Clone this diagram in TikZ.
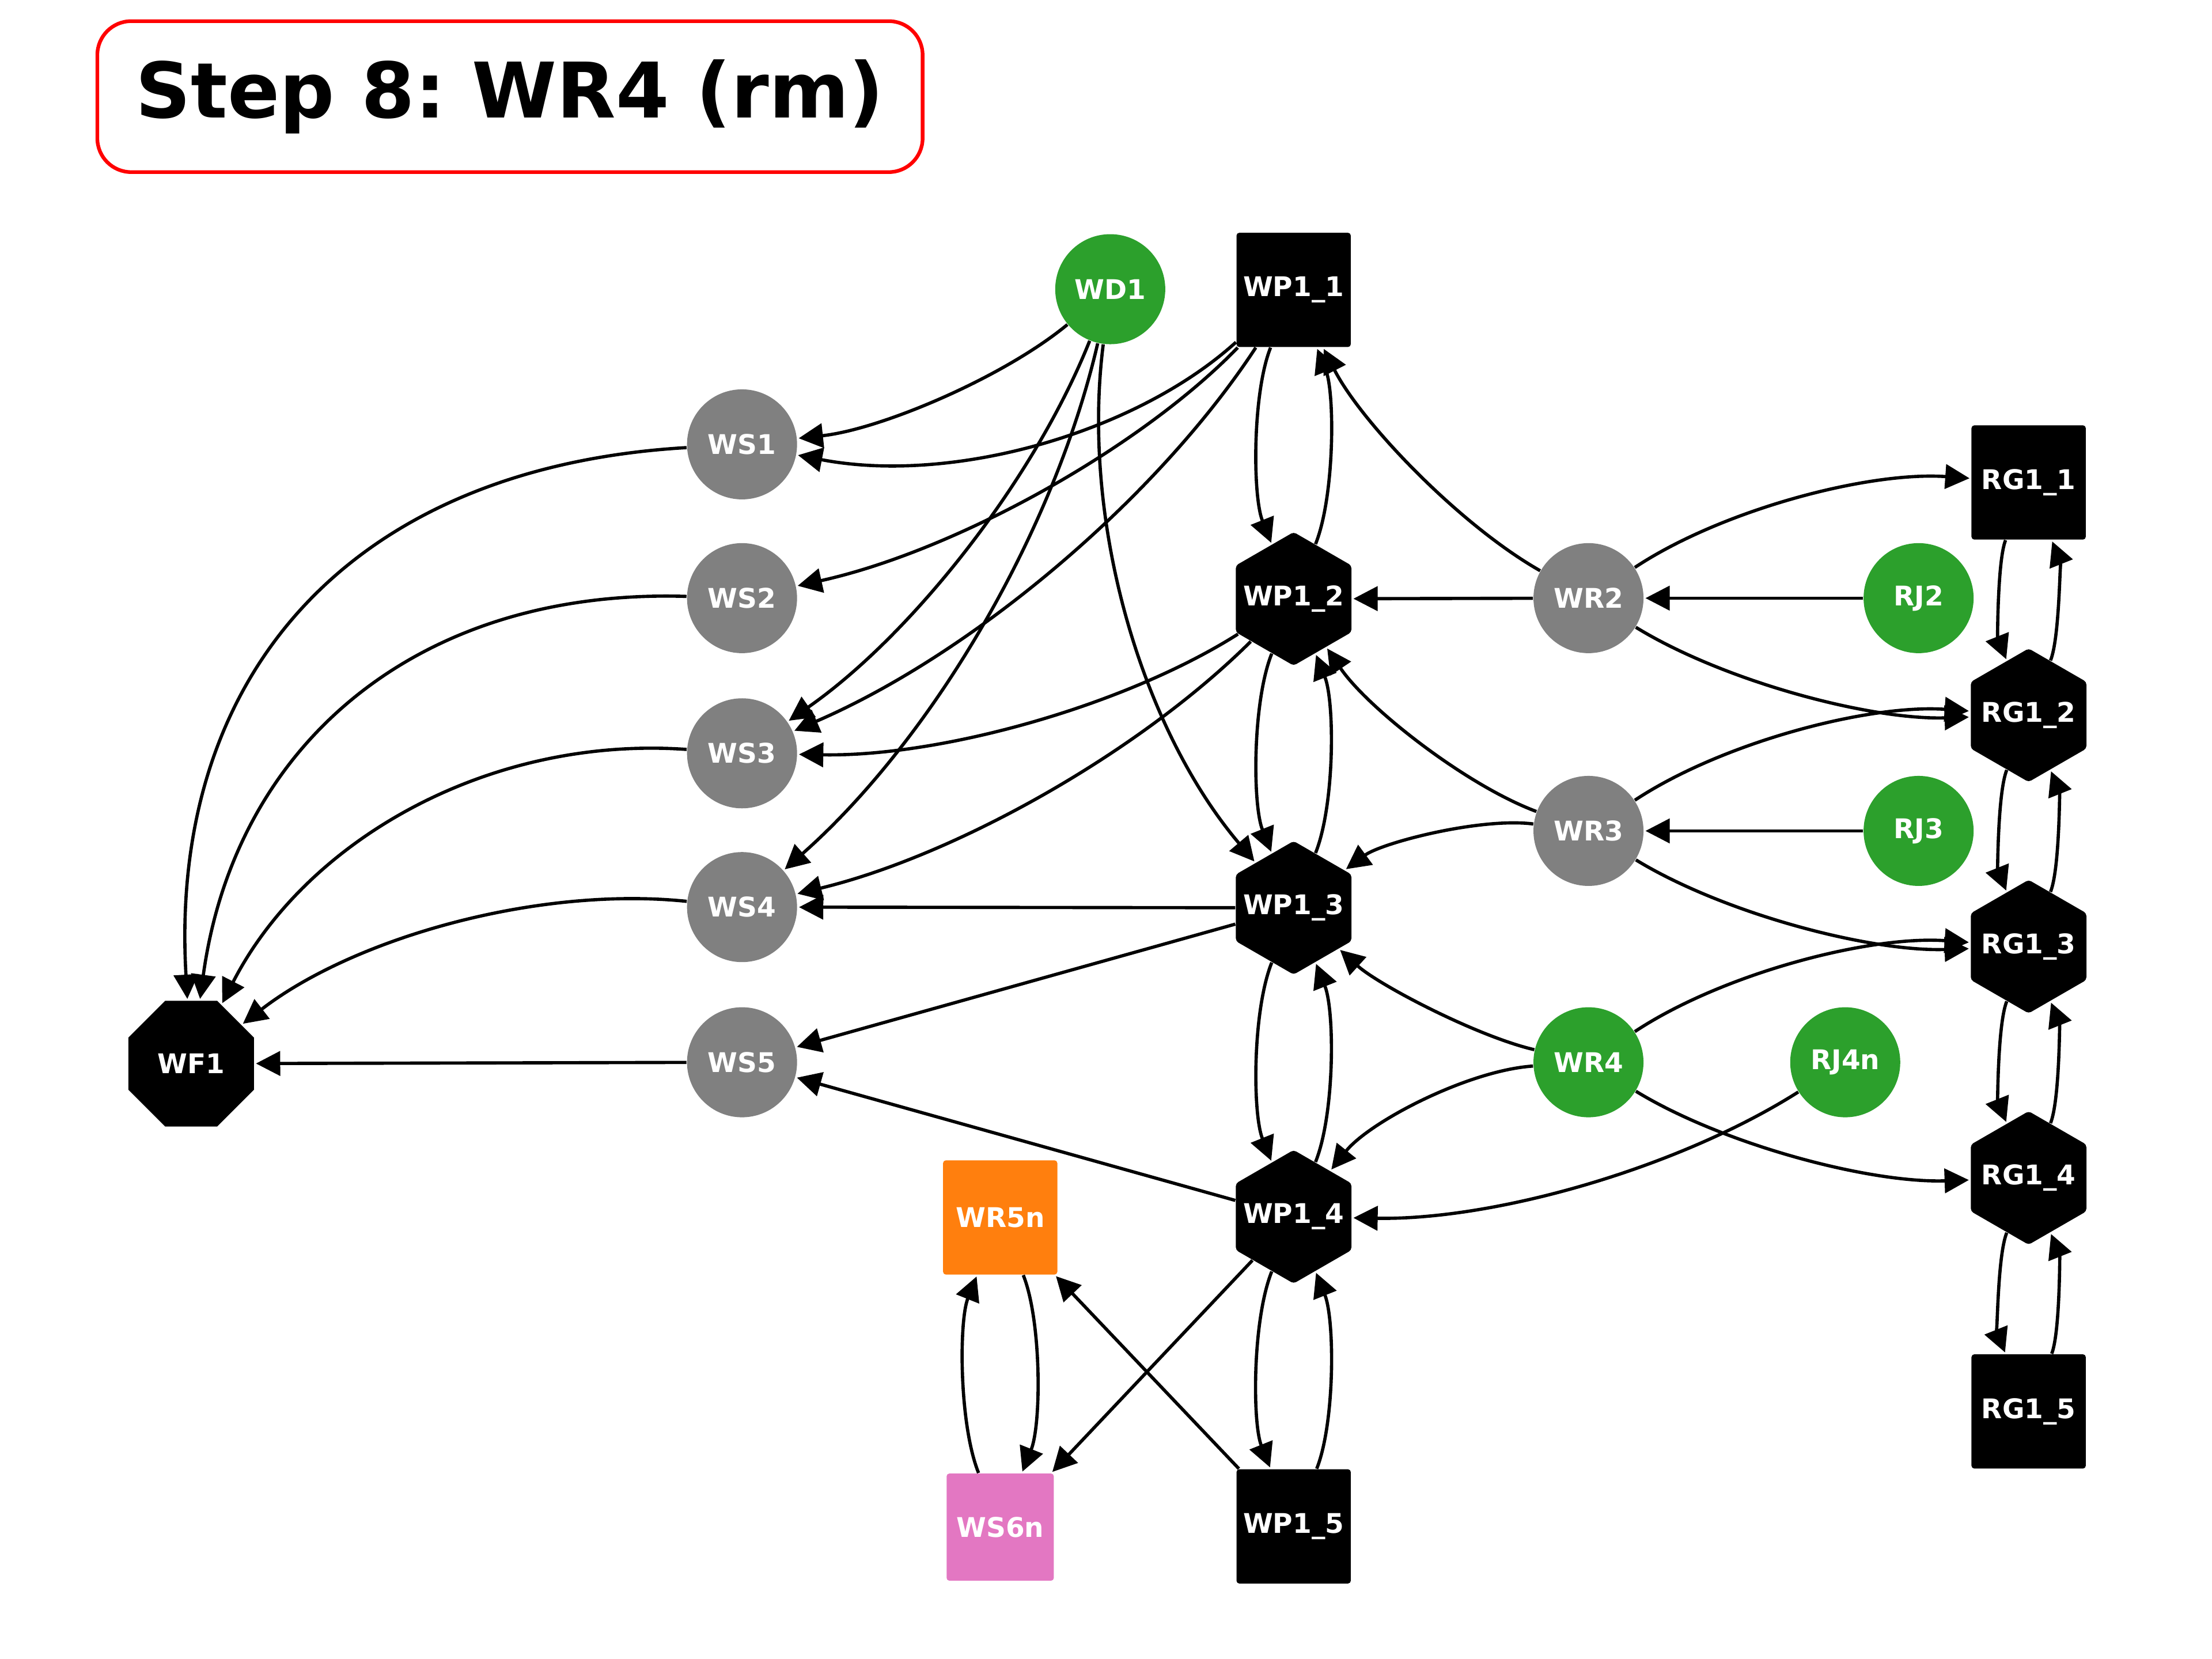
\documentclass[tikz,border=0pt]{standalone}
\usepackage{fontspec}
\setmainfont{DejaVu Sans}
\usetikzlibrary{arrows.meta,shapes.geometric,calc}
\definecolor{cgreen}{HTML}{2CA02C}
\definecolor{cgray}{HTML}{808080}
\definecolor{corange}{HTML}{FF7F0E}
\definecolor{cpink}{HTML}{E377C2}
\newcommand{\zb}[1]{\makebox[0pt]{#1}}
% quadratic (arc3-like) connector from node #1 to node #2 with curvature #3 (positive = bends left)
\newcommand{\qe}[3]{%
  \coordinate (qc) at ($(#1)!.5!(#2)!{2*(#3)}!90:(#2)$);
  \draw[e] (#1) .. controls ($(#1)!2/3!(qc)$) and ($(#2)!2/3!(qc)$) .. (#2);}
\frenchspacing
\begin{document}
\begin{tikzpicture}[x=0.5pt,y=0.5pt,
  lbl/.style={font=\fontsize{9.6}{11}\selectfont\bfseries, text=white, inner sep=0pt},
  circ/.style={lbl, circle, minimum size=39pt},
  sq/.style={lbl, rectangle, minimum width=40.5pt, minimum height=40.5pt, rounded corners=1pt},
  hex/.style={lbl, regular polygon, regular polygon sides=6, shape border rotate=30, minimum size=47.3pt, rounded corners=1pt},
  oct/.style={lbl, regular polygon, regular polygon sides=8, minimum size=48.2pt},
  e/.style={draw=black, line width=1.15pt, -{Triangle[length=8.6pt,width=8.6pt]}, shorten >=0.5pt},
]
\useasboundingbox (0,0) rectangle (1568,-1176);

% title
\node[draw=red, line width=1.3pt, rounded corners=12pt, minimum width=292.5pt, minimum height=53.5pt,
      font=\fontsize{27.2}{30}\selectfont\bfseries, text=black, inner sep=0pt] (title) at (361.5,-68.5) {Step 8: WR4 (rm)};

% nodes
\node[circ, fill=cgreen] (WD1) at (787,-205) {WD1};
\node[sq, fill=black] (WP11) at (917,-205.5) {WP1\_1};
\node[circ, fill=cgray] (WS1) at (526,-315) {WS1};
\node[circ, fill=cgray] (WS2) at (526,-424) {WS2};
\node[circ, fill=cgray] (WS3) at (526,-534) {WS3};
\node[circ, fill=cgray] (WS4) at (526,-643) {WS4};
\node[circ, fill=cgray] (WS5) at (526,-753) {WS5};
\node[oct, fill=black] (WF1) at (135.5,-754) {WF1};
\node[hex, fill=black] (WP12) at (917,-424.5) {\zb{WP1\_2}};
\node[hex, fill=black] (WP13) at (917,-643.5) {\zb{WP1\_3}};
\node[hex, fill=black] (WP14) at (917,-862.5) {\zb{WP1\_4}};
\node[sq, fill=black] (WP15) at (917,-1082) {WP1\_5};
\node[circ, fill=cgray] (WR2) at (1126,-424) {WR2};
\node[circ, fill=cgray] (WR3) at (1126,-589) {WR3};
\node[circ, fill=cgreen] (WR4) at (1126,-753) {WR4};
\node[circ, fill=cgreen] (RJ2) at (1360,-424) {RJ2};
\node[circ, fill=cgreen] (RJ3) at (1360,-589) {RJ3};
\node[circ, fill=cgreen] (RJ4n) at (1308,-753) {RJ4n};
\node[sq, fill=black] (RG11) at (1438,-342) {RG1\_1};
\node[hex, fill=black] (RG12) at (1438,-507) {\zb{RG1\_2}};
\node[hex, fill=black] (RG13) at (1438,-671) {\zb{RG1\_3}};
\node[hex, fill=black] (RG14) at (1438,-835) {\zb{RG1\_4}};
\node[sq, fill=black] (RG15) at (1438,-1000.5) {RG1\_5};
\node[sq, fill=corange] (WR5n) at (709,-863) {WR5n};
\node[sq, fill=cpink, minimum width=38pt, minimum height=38pt] (WS6n) at (709,-1082.5) {WS6n};

% edges into WS column
\qe{WD1}{WS1}{0.15}
\qe{WP11}{WS1}{0.25}
\qe{WP11}{WS2}{0.15}
\qe{WP11}{WS3}{0.15}
\qe{WD1}{WS3}{0.15}
\qe{WD1}{WS4}{0.16}
\qe{WD1}{WP13}{-0.22}
\qe{WP12}{WS3}{0.15}
\qe{WP12}{WS4}{0.14}
\draw[e] (WP13) -- (WS4);
\draw[e] (WP13) -- (WS5);
\draw[e] (WP14) -- (WS5);

% WS column to WF1
\qe{WS1}{WF1}{-0.5}
\qe{WS2}{WF1}{-0.45}
\qe{WS3}{WF1}{-0.33}
\qe{WS4}{WF1}{-0.2}
\draw[e] (WS5) -- (WF1);

% WP chain
\qe{WP11}{WP12}{-0.2}
\qe{WP12}{WP11}{-0.2}
\qe{WP12}{WP13}{-0.2}
\qe{WP13}{WP12}{-0.2}
\qe{WP13}{WP14}{-0.2}
\qe{WP14}{WP13}{-0.2}
\qe{WP14}{WP15}{-0.2}
\qe{WP15}{WP14}{-0.2}

% RG chain
\qe{RG11}{RG12}{-0.2}
\qe{RG12}{RG11}{-0.2}
\qe{RG12}{RG13}{-0.2}
\qe{RG13}{RG12}{-0.2}
\qe{RG13}{RG14}{-0.2}
\qe{RG14}{RG13}{-0.2}
\qe{RG14}{RG15}{-0.2}
\qe{RG15}{RG14}{-0.2}

% WR nodes
\qe{WR2}{WP11}{0.15}
\draw[e] (WR2) -- (WP12);
\draw[e] (RJ2) -- (WR2);
\qe{WR2}{RG11}{0.17}
\qe{WR2}{RG12}{-0.15}
\qe{WR3}{WP12}{0.16}
\qe{WR3}{WP13}{-0.2}
\draw[e] (RJ3) -- (WR3);
\qe{WR3}{RG12}{0.17}
\qe{WR3}{RG13}{-0.15}
\qe{WR4}{WP13}{0.13}
\qe{WR4}{WP14}{-0.22}
\qe{WR4}{RG13}{0.17}
\qe{WR4}{RG14}{-0.15}
\qe{RJ4n}{WP14}{0.15}

% bottom
\qe{WR5n}{WS6n}{0.2}
\qe{WS6n}{WR5n}{0.2}
\draw[e] (WP15) -- (WR5n);
\draw[e] (WP14) -- (WS6n);
\end{tikzpicture}
\end{document}
